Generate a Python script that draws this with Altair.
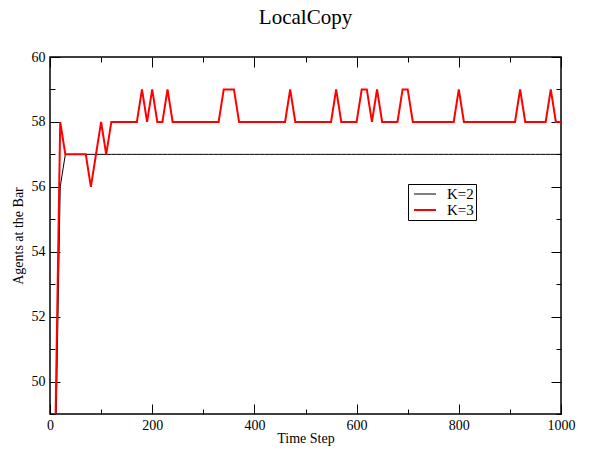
import altair as alt
import pandas as pd

# ---- data ----
time_steps = [10, 20, 30, 40, 50, 60, 70, 80, 90, 100,
              110, 120, 130, 140, 150, 160, 170, 180, 190, 200,
              210, 220, 230, 240, 250, 260, 270, 280, 290, 300,
              310, 320, 330, 340, 350, 360, 370, 380, 390, 400,
              410, 420, 430, 440, 450, 460, 470, 480, 490, 500,
              510, 520, 530, 540, 550, 560, 570, 580, 590, 600,
              610, 620, 630, 640, 650, 660, 670, 680, 690, 700,
              710, 720, 730, 740, 750, 760, 770, 780, 790, 800,
              810, 820, 830, 840, 850, 860, 870, 880, 890, 900,
              910, 920, 930, 940, 950, 960, 970, 980, 990, 1000]

k2_values = [47, 56, 57, 57, 57, 57, 57, 57, 57, 57,
             57, 57, 57, 57, 57, 57, 57, 57, 57, 57,
             57, 57, 57, 57, 57, 57, 57, 57, 57, 57,
             57, 57, 57, 57, 57, 57, 57, 57, 57, 57,
             57, 57, 57, 57, 57, 57, 57, 57, 57, 57,
             57, 57, 57, 57, 57, 57, 57, 57, 57, 57,
             57, 57, 57, 57, 57, 57, 57, 57, 57, 57,
             57, 57, 57, 57, 57, 57, 57, 57, 57, 57,
             57, 57, 57, 57, 57, 57, 57, 57, 57, 57,
             57, 57, 57, 57, 57, 57, 57, 57, 57, 57]

k3_values = [48, 58, 57, 57, 57, 57, 57, 56, 57, 58,
             57, 58, 58, 58, 58, 58, 58, 59, 58, 59,
             58, 58, 59, 58, 58, 58, 58, 58, 58, 58,
             58, 58, 58, 59, 59, 59, 58, 58, 58, 58,
             58, 58, 58, 58, 58, 58, 59, 58, 58, 58,
             58, 58, 58, 58, 58, 59, 58, 58, 58, 58,
             59, 59, 58, 59, 58, 58, 58, 58, 59, 59,
             58, 58, 58, 58, 58, 58, 58, 58, 58, 59,
             58, 58, 58, 58, 58, 58, 58, 58, 58, 58,
             58, 59, 58, 58, 58, 58, 58, 59, 58, 58]

series_names = ["K=2", "K=3"]
series_colors = ["#000000", "#ff0000"]

x_major = [0, 200, 400, 600, 800, 1000]
x_minor = [100, 300, 500, 700, 900]
y_major = [50, 52, 54, 56, 58, 60]
y_minor = [49, 51, 53, 55, 57, 59]

df = pd.concat([
    pd.DataFrame({"t": time_steps, "value": k2_values, "series": series_names[0]}),
    pd.DataFrame({"t": time_steps, "value": k3_values, "series": series_names[1]}),
], ignore_index=True)

FONT = "Liberation Serif"
x_scale = alt.Scale(domain=[0, 1000], nice=False, zero=False)
y_scale = alt.Scale(domain=[49, 60], nice=False, zero=False)

base = alt.Chart(df)

lines = base.mark_line(clip=True).encode(
    x=alt.X("t:Q", scale=x_scale,
            axis=alt.Axis(orient="bottom", values=x_major, ticks=False, domain=False, grid=False,
                          labelFlush=False, labelPadding=4, title="Time Step",
                          titlePadding=-1, format="d")),
    y=alt.Y("value:Q", scale=y_scale,
            axis=alt.Axis(orient="left", values=y_major, ticks=False, domain=False, grid=False,
                          labelFlush=False, labelPadding=5, title="Agents at the Bar",
                          titlePadding=6, format="d")),
    color=alt.Color("series:N", scale=alt.Scale(domain=series_names, range=series_colors),
                    legend=alt.Legend(title=None, orient="none", legendX=358, legendY=127,
                                      symbolType="stroke", symbolSize=484, symbolStrokeWidth=2,
                                      symbolOffset=3, labelOffset=10, clipHeight=16,
                                      labelFont=FONT, labelFontSize=15, labelColor="black",
                                      strokeColor="black", fillColor="white", padding=2,
                                      rowPadding=0, cornerRadius=0)),
    strokeWidth=alt.StrokeWidth("series:N", scale=alt.Scale(domain=series_names, range=[1, 2]),
                                legend=None),
)


def tick_layer(x_vals, y_vals, x_orient, y_orient, size):
    return base.mark_point(opacity=0).encode(
        x=alt.X("t:Q", scale=x_scale,
                axis=alt.Axis(orient=x_orient, values=x_vals, tickSize=size, offset=-size,
                              labels=False, domain=False, grid=False, title=None,
                              tickColor="black", tickWidth=1)),
        y=alt.Y("value:Q", scale=y_scale,
                axis=alt.Axis(orient=y_orient, values=y_vals, tickSize=size, offset=-size,
                              labels=False, domain=False, grid=False, title=None,
                              tickColor="black", tickWidth=1)),
    )


chart = alt.layer(
    lines,
    tick_layer(x_major, y_major, "bottom", "left", 10),
    tick_layer(x_minor, y_minor, "bottom", "left", 5),
    tick_layer(x_major, y_major, "top", "right", 10),
    tick_layer(x_minor, y_minor, "top", "right", 5),
).resolve_axis(
    x="independent", y="independent"
).properties(
    width=511, height=357,
    title=alt.TitleParams("LocalCopy", font=FONT, fontSize=21, fontWeight="normal",
                          anchor="middle", frame="group", baseline="alphabetic", offset=5,
                          color="black"),
    autosize=alt.AutoSizeParams(type="none"),
    padding={"left": 42, "top": 49, "right": 20, "bottom": 32},
).configure_view(
    stroke="black", strokeWidth=1.5
).configure_axis(
    labelFont=FONT, labelFontSize=14, labelColor="black",
    titleFont=FONT, titleFontSize=14, titleFontWeight="normal", titleColor="black",
)

chart.save("out.html", embed_options={"renderer": "svg", "actions": False})
